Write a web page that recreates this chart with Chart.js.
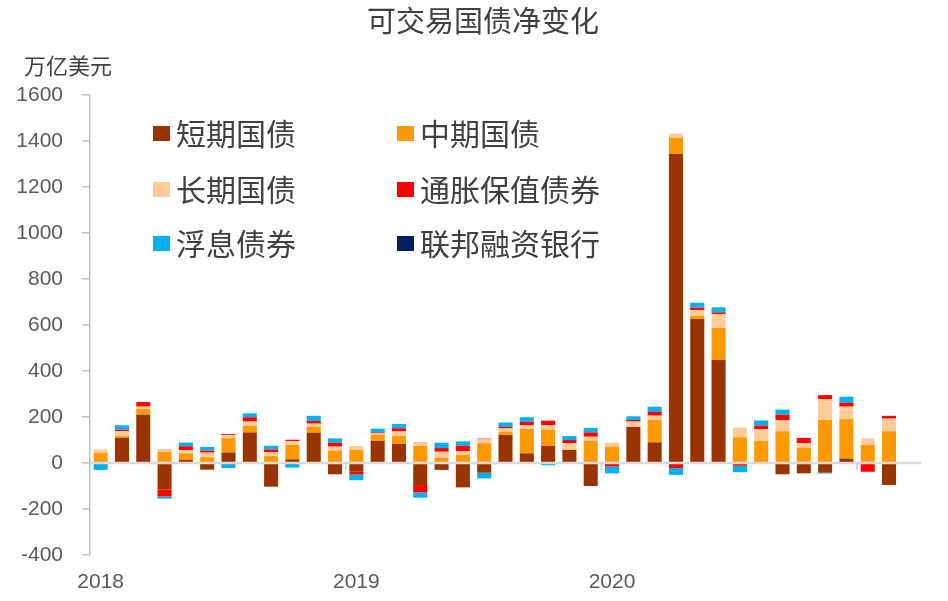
<!DOCTYPE html>
<html><head><meta charset="utf-8">
<script src="https://cdn.jsdelivr.net/npm/chart.js@4.4.0/dist/chart.umd.min.js"></script>
<style>html,body{margin:0;padding:0;background:#fff}</style>
</head><body>
<canvas id="c" width="948" height="601"></canvas>
<script>
const categories = [
 '2018-01','2018-02','2018-03','2018-04','2018-05','2018-06','2018-07','2018-08','2018-09','2018-10','2018-11','2018-12',
 '2019-01','2019-02','2019-03','2019-04','2019-05','2019-06','2019-07','2019-08','2019-09','2019-10','2019-11','2019-12',
 '2020-01','2020-02','2020-03','2020-04','2020-05','2020-06','2020-07','2020-08','2020-09','2020-10','2020-11','2020-12',
 '2021-01','2021-02','2021-03'
];
const yearLabels = ['2018','2019','2020'];
const seriesNames = ['短期国债','中期国债','长期国债','通胀保值债券','浮息债券','联邦融资银行'];
const seriesColors = ['#993300','#FF9900','#FFCC99','#FF0000','#00B0F0','#002060'];
const billsShort = [5,110,210,-115,13,-29,46,133,-103,16,132,-49, -38,96,83,-96,-30,-106,-42,122,42,74,57,-100, -3,157,90,1343,626,449,0,0,-49,-45,-42,19, 0,-96];
const notesMid   = [38,7,25,48,29,25,62,28,30,62,26,54, 57,26,35,74,23,36,86,14,106,72,0,97, 71,0,97,72,14,138,112,96,138,67,187,172, 78,138];
const bondsLong  = [16,22,10,13,14,20,14,19,17,17,13,17, 17,7,19,17,26,16,17,14,17,19,29,17, 17,23,19,17,25,61,42,51,49,19,91,54, 29,55];
const tips       = [0,6,20,-30,17,9,4,19,12,6,12,17, -12,4,14,-32,16,23,3,7,14,19,14,19, -12,7,17,-22,10,7,-12,16,23,23,17,17, -38,12];
const frn        = [-30,19,0,-10,16,16,-22,17,16,-20,22,19, -25,16,19,-23,23,19,-25,19,20,-10,17,19, -30,16,22,-30,22,22,-28,22,22,0,-4,26, 0,0];
const ffb        = [];
const yTickValues = [-400,-200,0,200,400,600,800,1000,1200,1400,1600];
const unitLabel = '万亿美元';
const chartTitle = '可交易国债净变化';

const seriesData = [billsShort, notesMid, bondsLong, tips, frn, ffb];
const datasets = seriesNames.map((n,i)=>({
  label:n, data:seriesData[i], backgroundColor:seriesColors[i], borderWidth:0,
  barPercentage:0.66, categoryPercentage:1.0
}));

const overlay = {
  id:'overlay',
  afterDatasetsDraw(chart){
    const {ctx, chartArea, scales:{x,y}} = chart;
    const y0 = y.getPixelForValue(0);
    ctx.save();
    ctx.strokeStyle = '#D9D9D9'; ctx.lineWidth = 2.5;
    ctx.beginPath(); ctx.moveTo(chartArea.left, y0); ctx.lineTo(chartArea.right, y0); ctx.stroke();
    ctx.strokeStyle = '#C8C8C8'; ctx.lineWidth = 1.5;
    categories.forEach((c,i)=>{
      if(i>0 && c.endsWith('-01')){
        const xp = (x.getPixelForValue(i-1)+x.getPixelForValue(i))/2;
        ctx.beginPath(); ctx.moveTo(xp,y0); ctx.lineTo(xp,y0+7); ctx.stroke();
      }
    });
    ctx.restore();
  },
  afterDraw(chart){
    const ctx = chart.ctx;
    ctx.save();
    ctx.fillStyle = '#404040';
    ctx.textBaseline = 'middle';
    ctx.textAlign = 'center';
    ctx.font = '29px "Noto Sans CJK SC"';
    ctx.fillText(chartTitle, 483, 21);
    ctx.textAlign = 'left';
    ctx.font = '22px "Noto Sans CJK SC"';
    ctx.fillText(unitLabel, 24, 66);
    const colX = [153, 397], textX = [176, 420], rowY = [133, 189, 243];
    ctx.font = '30px "Noto Sans CJK SC"';
    chart.data.datasets.forEach((ds,i)=>{
      const c = i%2, r = Math.floor(i/2);
      ctx.fillStyle = ds.backgroundColor;
      ctx.fillRect(colX[c], rowY[r]-7, 17, 15);
      ctx.fillStyle = '#404040';
      ctx.fillText(ds.label, textX[c], rowY[r]+1);
    });
    ctx.restore();
  }
};

new Chart(document.getElementById('c'), {
  type:'bar',
  data:{ labels:categories, datasets },
  options:{
    responsive:false, animation:false,
    layout:{ padding:{ top:95, left:0, right:27, bottom:7 } },
    plugins:{ legend:{display:false}, title:{display:false}, tooltip:{enabled:false} },
    scales:{
      x:{
        stacked:true,
        afterFit:(s)=>{ s.height = 39; },
        grid:{ display:false, drawTicks:false },
        border:{ display:false },
        ticks:{
          autoSkip:false, maxRotation:0, minRotation:0, padding:15,
          color:'#595959', font:{ family:'"Liberation Sans", Arial', size:21 },
          callback:(v,i)=> {
            const c = categories[i];
            return c && c.endsWith('-01') && yearLabels.includes(c.slice(0,4)) ? c.slice(0,4) : '';
          }
        }
      },
      y:{
        stacked:true, min:-400, max:1600,
        afterBuildTicks:(s)=>{ s.ticks = yTickValues.map(v=>({value:v})); },
        afterFit:(s)=>{ s.width = 90; },
        grid:{ drawOnChartArea:false, drawTicks:true, tickLength:8, tickColor:'#BFBFBF', lineWidth:1.5 },
        border:{ display:true, color:'#BFBFBF', width:1.5 },
        ticks:{ padding:19, color:'#595959', font:{ family:'"Liberation Sans", Arial', size:21 },
          callback:(v)=> String(v) }
      }
    }
  },
  plugins:[overlay]
});
</script>
</body></html>
